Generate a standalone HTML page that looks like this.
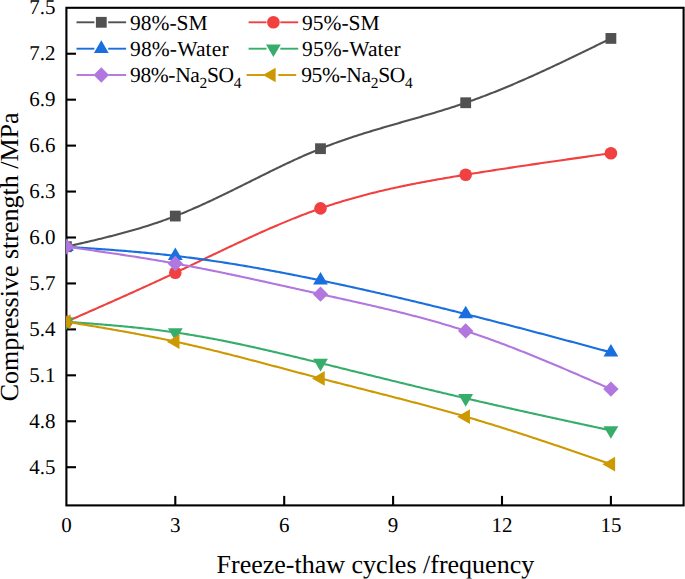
<!DOCTYPE html>
<html><head><meta charset="utf-8"><style>
html,body{margin:0;padding:0;background:#fff;}
svg{display:block;}
text{font-family:"Liberation Serif",serif;fill:#000;text-rendering:geometricPrecision;}
</style></head><body>
<svg width="685" height="579" viewBox="0 0 685 579">
<rect width="685" height="579" fill="#fff"/>
<defs><clipPath id="pa"><rect x="66.1" y="7.8" width="617.5" height="497.59999999999997"/></clipPath></defs>
<g stroke="#000" stroke-width="2.1" fill="none">
<rect x="66.4" y="7.8" width="617.2" height="497.59999999999997"/>
</g>
<g font-size="21px">
<text x="66.40" y="531.8" text-anchor="middle">0</text>
<line x1="175.30" y1="505.4" x2="175.30" y2="495.9" stroke="#000" stroke-width="2.1"/>
<text x="175.30" y="531.8" text-anchor="middle">3</text>
<line x1="284.20" y1="505.4" x2="284.20" y2="495.9" stroke="#000" stroke-width="2.1"/>
<text x="284.20" y="531.8" text-anchor="middle">6</text>
<line x1="393.10" y1="505.4" x2="393.10" y2="495.9" stroke="#000" stroke-width="2.1"/>
<text x="393.10" y="531.8" text-anchor="middle">9</text>
<line x1="502.00" y1="505.4" x2="502.00" y2="495.9" stroke="#000" stroke-width="2.1"/>
<text x="502.00" y="531.8" text-anchor="middle">12</text>
<line x1="610.90" y1="505.4" x2="610.90" y2="495.9" stroke="#000" stroke-width="2.1"/>
<text x="610.90" y="531.8" text-anchor="middle">15</text>
<text x="55.5" y="14.20" text-anchor="end">7.5</text>
<line x1="66.4" y1="53.74" x2="76.0" y2="53.74" stroke="#000" stroke-width="2.1"/>
<text x="55.5" y="60.14" text-anchor="end">7.2</text>
<line x1="66.4" y1="99.68" x2="76.0" y2="99.68" stroke="#000" stroke-width="2.1"/>
<text x="55.5" y="106.08" text-anchor="end">6.9</text>
<line x1="66.4" y1="145.62" x2="76.0" y2="145.62" stroke="#000" stroke-width="2.1"/>
<text x="55.5" y="152.02" text-anchor="end">6.6</text>
<line x1="66.4" y1="191.56" x2="76.0" y2="191.56" stroke="#000" stroke-width="2.1"/>
<text x="55.5" y="197.96" text-anchor="end">6.3</text>
<line x1="66.4" y1="237.50" x2="76.0" y2="237.50" stroke="#000" stroke-width="2.1"/>
<text x="55.5" y="243.90" text-anchor="end">6.0</text>
<line x1="66.4" y1="283.44" x2="76.0" y2="283.44" stroke="#000" stroke-width="2.1"/>
<text x="55.5" y="289.84" text-anchor="end">5.7</text>
<line x1="66.4" y1="329.38" x2="76.0" y2="329.38" stroke="#000" stroke-width="2.1"/>
<text x="55.5" y="335.78" text-anchor="end">5.4</text>
<line x1="66.4" y1="375.32" x2="76.0" y2="375.32" stroke="#000" stroke-width="2.1"/>
<text x="55.5" y="381.72" text-anchor="end">5.1</text>
<line x1="66.4" y1="421.26" x2="76.0" y2="421.26" stroke="#000" stroke-width="2.1"/>
<text x="55.5" y="427.66" text-anchor="end">4.8</text>
<line x1="66.4" y1="467.20" x2="76.0" y2="467.20" stroke="#000" stroke-width="2.1"/>
<text x="55.5" y="473.60" text-anchor="end">4.5</text>
</g>
<g clip-path="url(#pa)">
<path d="M66.40,246.69 L68.22,246.27 L70.03,245.86 L71.84,245.45 L73.66,245.03 L75.48,244.62 L77.29,244.20 L79.11,243.79 L80.92,243.37 L82.74,242.95 L84.55,242.53 L86.37,242.11 L88.18,241.68 L90.00,241.26 L91.81,240.83 L93.62,240.40 L95.44,239.96 L97.26,239.53 L99.07,239.09 L100.89,238.65 L102.70,238.21 L104.52,237.76 L106.33,237.31 L108.15,236.85 L109.96,236.39 L111.78,235.93 L113.59,235.47 L115.41,235.00 L117.22,234.52 L119.04,234.04 L120.85,233.56 L122.67,233.07 L124.48,232.58 L126.30,232.08 L128.11,231.57 L129.93,231.06 L131.74,230.55 L133.56,230.03 L135.37,229.50 L137.19,228.97 L139.00,228.43 L140.81,227.88 L142.63,227.33 L144.44,226.77 L146.26,226.20 L148.07,225.63 L149.89,225.05 L151.70,224.46 L153.52,223.86 L155.34,223.26 L157.15,222.65 L158.97,222.03 L160.78,221.40 L162.60,220.77 L164.41,220.12 L166.22,219.47 L168.04,218.80 L169.86,218.13 L171.67,217.45 L173.49,216.76 L175.30,216.06 L177.12,215.35 L178.93,214.63 L180.75,213.90 L182.56,213.17 L184.38,212.42 L186.19,211.67 L188.00,210.90 L189.82,210.13 L191.63,209.36 L193.45,208.57 L195.27,207.78 L197.08,206.97 L198.90,206.17 L200.71,205.35 L202.53,204.53 L204.34,203.71 L206.16,202.87 L207.97,202.03 L209.78,201.19 L211.60,200.34 L213.41,199.49 L215.23,198.63 L217.05,197.76 L218.86,196.90 L220.67,196.02 L222.49,195.15 L224.31,194.27 L226.12,193.39 L227.94,192.50 L229.75,191.61 L231.56,190.72 L233.38,189.83 L235.19,188.93 L237.01,188.03 L238.82,187.13 L240.64,186.23 L242.46,185.33 L244.27,184.43 L246.09,183.52 L247.90,182.62 L249.72,181.71 L251.53,180.81 L253.34,179.90 L255.16,179.00 L256.98,178.09 L258.79,177.19 L260.61,176.29 L262.42,175.39 L264.24,174.49 L266.05,173.59 L267.87,172.70 L269.68,171.80 L271.50,170.91 L273.31,170.03 L275.12,169.14 L276.94,168.26 L278.75,167.38 L280.57,166.51 L282.38,165.64 L284.20,164.77 L286.01,163.91 L287.83,163.05 L289.64,162.20 L291.46,161.35 L293.27,160.51 L295.09,159.67 L296.90,158.84 L298.72,158.02 L300.53,157.20 L302.35,156.39 L304.17,155.58 L305.98,154.79 L307.79,154.00 L309.61,153.21 L311.42,152.44 L313.24,151.67 L315.06,150.91 L316.87,150.16 L318.69,149.42 L320.50,148.68 L322.31,147.96 L324.13,147.24 L325.95,146.54 L327.76,145.84 L329.57,145.15 L331.39,144.46 L333.21,143.79 L335.02,143.12 L336.84,142.47 L338.65,141.81 L340.47,141.17 L342.28,140.53 L344.10,139.90 L345.91,139.28 L347.73,138.66 L349.54,138.05 L351.36,137.44 L353.17,136.84 L354.99,136.25 L356.80,135.66 L358.62,135.08 L360.43,134.50 L362.25,133.92 L364.06,133.35 L365.88,132.79 L367.69,132.23 L369.50,131.67 L371.32,131.12 L373.13,130.57 L374.95,130.02 L376.76,129.48 L378.58,128.94 L380.39,128.40 L382.21,127.87 L384.02,127.34 L385.84,126.81 L387.65,126.28 L389.47,125.75 L391.28,125.23 L393.10,124.71 L394.91,124.18 L396.73,123.66 L398.54,123.15 L400.36,122.63 L402.17,122.11 L403.99,121.59 L405.80,121.07 L407.62,120.55 L409.44,120.04 L411.25,119.52 L413.07,119.00 L414.88,118.48 L416.69,117.95 L418.51,117.43 L420.32,116.91 L422.14,116.38 L423.96,115.85 L425.77,115.32 L427.59,114.79 L429.40,114.26 L431.22,113.72 L433.03,113.18 L434.85,112.64 L436.66,112.09 L438.48,111.54 L440.29,110.99 L442.11,110.43 L443.92,109.87 L445.74,109.30 L447.55,108.73 L449.37,108.16 L451.18,107.58 L453.00,106.99 L454.81,106.40 L456.62,105.81 L458.44,105.21 L460.25,104.60 L462.07,103.99 L463.88,103.37 L465.70,102.74 L467.51,102.11 L469.33,101.47 L471.14,100.83 L472.96,100.18 L474.77,99.52 L476.59,98.86 L478.40,98.19 L480.22,97.51 L482.03,96.83 L483.85,96.14 L485.66,95.45 L487.48,94.75 L489.29,94.05 L491.11,93.34 L492.92,92.62 L494.74,91.90 L496.56,91.18 L498.37,90.44 L500.19,89.71 L502.00,88.97 L503.81,88.22 L505.63,87.47 L507.44,86.71 L509.26,85.95 L511.07,85.19 L512.89,84.42 L514.71,83.65 L516.52,82.87 L518.34,82.08 L520.15,81.30 L521.97,80.51 L523.78,79.71 L525.60,78.91 L527.41,78.11 L529.23,77.30 L531.04,76.49 L532.86,75.68 L534.67,74.86 L536.49,74.04 L538.30,73.22 L540.12,72.39 L541.93,71.56 L543.75,70.73 L545.56,69.89 L547.38,69.05 L549.19,68.21 L551.00,67.36 L552.82,66.51 L554.63,65.66 L556.45,64.81 L558.26,63.95 L560.08,63.09 L561.89,62.23 L563.71,61.37 L565.52,60.50 L567.34,59.64 L569.15,58.77 L570.97,57.90 L572.78,57.03 L574.60,56.15 L576.41,55.27 L578.23,54.40 L580.04,53.52 L581.86,52.64 L583.67,51.76 L585.49,50.87 L587.30,49.99 L589.12,49.10 L590.93,48.22 L592.75,47.33 L594.56,46.44 L596.38,45.55 L598.19,44.66 L600.01,43.77 L601.82,42.88 L603.64,41.99 L605.46,41.10 L607.27,40.21 L609.08,39.32 L610.90,38.43" fill="none" stroke="#515151" stroke-width="2.1" stroke-linejoin="round"/>
<rect x="61.00" y="241.29" width="10.8" height="10.8" fill="#515151"/>
<rect x="169.90" y="210.66" width="10.8" height="10.8" fill="#515151"/>
<rect x="315.10" y="143.28" width="10.8" height="10.8" fill="#515151"/>
<rect x="460.30" y="97.34" width="10.8" height="10.8" fill="#515151"/>
<rect x="605.50" y="33.03" width="10.8" height="10.8" fill="#515151"/>
<path d="M66.40,321.72 L68.22,320.92 L70.03,320.13 L71.84,319.33 L73.66,318.53 L75.48,317.73 L77.29,316.93 L79.11,316.13 L80.92,315.33 L82.74,314.53 L84.55,313.73 L86.37,312.93 L88.18,312.13 L90.00,311.33 L91.81,310.53 L93.62,309.73 L95.44,308.93 L97.26,308.13 L99.07,307.32 L100.89,306.52 L102.70,305.72 L104.52,304.91 L106.33,304.11 L108.15,303.30 L109.96,302.49 L111.78,301.68 L113.59,300.88 L115.41,300.07 L117.22,299.26 L119.04,298.45 L120.85,297.63 L122.67,296.82 L124.48,296.01 L126.30,295.19 L128.11,294.38 L129.93,293.56 L131.74,292.74 L133.56,291.93 L135.37,291.11 L137.19,290.28 L139.00,289.46 L140.81,288.64 L142.63,287.81 L144.44,286.99 L146.26,286.16 L148.07,285.33 L149.89,284.50 L151.70,283.67 L153.52,282.84 L155.34,282.00 L157.15,281.17 L158.97,280.33 L160.78,279.49 L162.60,278.65 L164.41,277.81 L166.22,276.97 L168.04,276.12 L169.86,275.27 L171.67,274.42 L173.49,273.57 L175.30,272.72 L177.12,271.87 L178.93,271.01 L180.75,270.15 L182.56,269.29 L184.38,268.43 L186.19,267.57 L188.00,266.71 L189.82,265.84 L191.63,264.98 L193.45,264.11 L195.27,263.25 L197.08,262.38 L198.90,261.51 L200.71,260.65 L202.53,259.78 L204.34,258.91 L206.16,258.04 L207.97,257.17 L209.78,256.31 L211.60,255.44 L213.41,254.57 L215.23,253.71 L217.05,252.84 L218.86,251.98 L220.67,251.11 L222.49,250.25 L224.31,249.39 L226.12,248.53 L227.94,247.67 L229.75,246.81 L231.56,245.95 L233.38,245.10 L235.19,244.25 L237.01,243.40 L238.82,242.55 L240.64,241.70 L242.46,240.86 L244.27,240.02 L246.09,239.18 L247.90,238.34 L249.72,237.51 L251.53,236.68 L253.34,235.85 L255.16,235.03 L256.98,234.21 L258.79,233.39 L260.61,232.58 L262.42,231.77 L264.24,230.96 L266.05,230.16 L267.87,229.36 L269.68,228.56 L271.50,227.77 L273.31,226.98 L275.12,226.20 L276.94,225.42 L278.75,224.65 L280.57,223.88 L282.38,223.12 L284.20,222.36 L286.01,221.61 L287.83,220.86 L289.64,220.11 L291.46,219.38 L293.27,218.64 L295.09,217.92 L296.90,217.20 L298.72,216.48 L300.53,215.77 L302.35,215.07 L304.17,214.37 L305.98,213.68 L307.79,213.00 L309.61,212.32 L311.42,211.65 L313.24,210.99 L315.06,210.33 L316.87,209.68 L318.69,209.04 L320.50,208.40 L322.31,207.78 L324.13,207.16 L325.95,206.54 L327.76,205.94 L329.57,205.34 L331.39,204.74 L333.21,204.16 L335.02,203.58 L336.84,203.01 L338.65,202.44 L340.47,201.89 L342.28,201.33 L344.10,200.79 L345.91,200.25 L347.73,199.72 L349.54,199.19 L351.36,198.67 L353.17,198.15 L354.99,197.65 L356.80,197.14 L358.62,196.65 L360.43,196.15 L362.25,195.67 L364.06,195.19 L365.88,194.71 L367.69,194.24 L369.50,193.78 L371.32,193.32 L373.13,192.87 L374.95,192.42 L376.76,191.98 L378.58,191.54 L380.39,191.10 L382.21,190.68 L384.02,190.25 L385.84,189.83 L387.65,189.42 L389.47,189.01 L391.28,188.60 L393.10,188.20 L394.91,187.80 L396.73,187.41 L398.54,187.02 L400.36,186.63 L402.17,186.25 L403.99,185.87 L405.80,185.50 L407.62,185.13 L409.44,184.76 L411.25,184.39 L413.07,184.03 L414.88,183.68 L416.69,183.32 L418.51,182.97 L420.32,182.63 L422.14,182.28 L423.96,181.94 L425.77,181.60 L427.59,181.27 L429.40,180.93 L431.22,180.60 L433.03,180.28 L434.85,179.95 L436.66,179.63 L438.48,179.31 L440.29,178.99 L442.11,178.67 L443.92,178.36 L445.74,178.04 L447.55,177.73 L449.37,177.42 L451.18,177.12 L453.00,176.81 L454.81,176.51 L456.62,176.21 L458.44,175.91 L460.25,175.61 L462.07,175.31 L463.88,175.01 L465.70,174.72 L467.51,174.42 L469.33,174.13 L471.14,173.83 L472.96,173.54 L474.77,173.25 L476.59,172.96 L478.40,172.67 L480.22,172.38 L482.03,172.10 L483.85,171.81 L485.66,171.53 L487.48,171.24 L489.29,170.96 L491.11,170.68 L492.92,170.39 L494.74,170.11 L496.56,169.83 L498.37,169.55 L500.19,169.27 L502.00,169.00 L503.81,168.72 L505.63,168.44 L507.44,168.17 L509.26,167.89 L511.07,167.62 L512.89,167.35 L514.71,167.07 L516.52,166.80 L518.34,166.53 L520.15,166.26 L521.97,165.99 L523.78,165.72 L525.60,165.45 L527.41,165.18 L529.23,164.92 L531.04,164.65 L532.86,164.38 L534.67,164.12 L536.49,163.85 L538.30,163.59 L540.12,163.32 L541.93,163.06 L543.75,162.79 L545.56,162.53 L547.38,162.27 L549.19,162.01 L551.00,161.75 L552.82,161.48 L554.63,161.22 L556.45,160.96 L558.26,160.70 L560.08,160.44 L561.89,160.18 L563.71,159.93 L565.52,159.67 L567.34,159.41 L569.15,159.15 L570.97,158.89 L572.78,158.64 L574.60,158.38 L576.41,158.12 L578.23,157.87 L580.04,157.61 L581.86,157.35 L583.67,157.10 L585.49,156.84 L587.30,156.59 L589.12,156.33 L590.93,156.08 L592.75,155.82 L594.56,155.57 L596.38,155.31 L598.19,155.06 L600.01,154.80 L601.82,154.55 L603.64,154.29 L605.46,154.04 L607.27,153.79 L609.08,153.53 L610.90,153.28" fill="none" stroke="#F14040" stroke-width="2.1" stroke-linejoin="round"/>
<circle cx="66.40" cy="321.72" r="6.3" fill="#F14040"/>
<circle cx="175.30" cy="272.72" r="6.3" fill="#F14040"/>
<circle cx="320.50" cy="208.40" r="6.3" fill="#F14040"/>
<circle cx="465.70" cy="174.72" r="6.3" fill="#F14040"/>
<circle cx="610.90" cy="153.28" r="6.3" fill="#F14040"/>
<path d="M66.40,246.69 L68.22,246.81 L70.03,246.94 L71.84,247.06 L73.66,247.18 L75.48,247.31 L77.29,247.43 L79.11,247.56 L80.92,247.68 L82.74,247.81 L84.55,247.93 L86.37,248.06 L88.18,248.19 L90.00,248.32 L91.81,248.44 L93.62,248.57 L95.44,248.70 L97.26,248.83 L99.07,248.96 L100.89,249.10 L102.70,249.23 L104.52,249.36 L106.33,249.50 L108.15,249.64 L109.96,249.77 L111.78,249.91 L113.59,250.05 L115.41,250.19 L117.22,250.33 L119.04,250.48 L120.85,250.62 L122.67,250.77 L124.48,250.92 L126.30,251.07 L128.11,251.22 L129.93,251.37 L131.74,251.53 L133.56,251.68 L135.37,251.84 L137.19,252.00 L139.00,252.16 L140.81,252.33 L142.63,252.49 L144.44,252.66 L146.26,252.83 L148.07,253.00 L149.89,253.18 L151.70,253.35 L153.52,253.53 L155.34,253.71 L157.15,253.90 L158.97,254.08 L160.78,254.27 L162.60,254.46 L164.41,254.66 L166.22,254.85 L168.04,255.05 L169.86,255.25 L171.67,255.46 L173.49,255.67 L175.30,255.88 L177.12,256.09 L178.93,256.31 L180.75,256.52 L182.56,256.75 L184.38,256.97 L186.19,257.20 L188.00,257.43 L189.82,257.66 L191.63,257.90 L193.45,258.14 L195.27,258.38 L197.08,258.62 L198.90,258.87 L200.71,259.12 L202.53,259.37 L204.34,259.62 L206.16,259.88 L207.97,260.14 L209.78,260.40 L211.60,260.67 L213.41,260.94 L215.23,261.21 L217.05,261.48 L218.86,261.75 L220.67,262.03 L222.49,262.31 L224.31,262.59 L226.12,262.88 L227.94,263.16 L229.75,263.45 L231.56,263.74 L233.38,264.04 L235.19,264.33 L237.01,264.63 L238.82,264.93 L240.64,265.23 L242.46,265.54 L244.27,265.84 L246.09,266.15 L247.90,266.46 L249.72,266.78 L251.53,267.09 L253.34,267.41 L255.16,267.73 L256.98,268.05 L258.79,268.37 L260.61,268.70 L262.42,269.02 L264.24,269.35 L266.05,269.68 L267.87,270.02 L269.68,270.35 L271.50,270.69 L273.31,271.02 L275.12,271.36 L276.94,271.71 L278.75,272.05 L280.57,272.39 L282.38,272.74 L284.20,273.09 L286.01,273.44 L287.83,273.79 L289.64,274.14 L291.46,274.50 L293.27,274.86 L295.09,275.21 L296.90,275.57 L298.72,275.93 L300.53,276.30 L302.35,276.66 L304.17,277.03 L305.98,277.39 L307.79,277.76 L309.61,278.13 L311.42,278.50 L313.24,278.87 L315.06,279.25 L316.87,279.62 L318.69,280.00 L320.50,280.38 L322.31,280.76 L324.13,281.14 L325.95,281.52 L327.76,281.90 L329.57,282.28 L331.39,282.67 L333.21,283.05 L335.02,283.44 L336.84,283.83 L338.65,284.22 L340.47,284.61 L342.28,285.00 L344.10,285.39 L345.91,285.79 L347.73,286.18 L349.54,286.58 L351.36,286.98 L353.17,287.38 L354.99,287.78 L356.80,288.18 L358.62,288.58 L360.43,288.98 L362.25,289.39 L364.06,289.79 L365.88,290.20 L367.69,290.61 L369.50,291.01 L371.32,291.42 L373.13,291.84 L374.95,292.25 L376.76,292.66 L378.58,293.07 L380.39,293.49 L382.21,293.91 L384.02,294.32 L385.84,294.74 L387.65,295.16 L389.47,295.58 L391.28,296.00 L393.10,296.42 L394.91,296.85 L396.73,297.27 L398.54,297.70 L400.36,298.12 L402.17,298.55 L403.99,298.98 L405.80,299.41 L407.62,299.84 L409.44,300.27 L411.25,300.70 L413.07,301.13 L414.88,301.56 L416.69,302.00 L418.51,302.44 L420.32,302.87 L422.14,303.31 L423.96,303.75 L425.77,304.19 L427.59,304.63 L429.40,305.07 L431.22,305.51 L433.03,305.95 L434.85,306.40 L436.66,306.84 L438.48,307.29 L440.29,307.73 L442.11,308.18 L443.92,308.63 L445.74,309.08 L447.55,309.53 L449.37,309.98 L451.18,310.43 L453.00,310.88 L454.81,311.33 L456.62,311.79 L458.44,312.24 L460.25,312.70 L462.07,313.15 L463.88,313.61 L465.70,314.07 L467.51,314.53 L469.33,314.98 L471.14,315.44 L472.96,315.90 L474.77,316.37 L476.59,316.83 L478.40,317.29 L480.22,317.75 L482.03,318.22 L483.85,318.68 L485.66,319.15 L487.48,319.62 L489.29,320.08 L491.11,320.55 L492.92,321.02 L494.74,321.49 L496.56,321.96 L498.37,322.43 L500.19,322.90 L502.00,323.37 L503.81,323.84 L505.63,324.31 L507.44,324.79 L509.26,325.26 L511.07,325.73 L512.89,326.21 L514.71,326.68 L516.52,327.16 L518.34,327.63 L520.15,328.11 L521.97,328.59 L523.78,329.06 L525.60,329.54 L527.41,330.02 L529.23,330.50 L531.04,330.98 L532.86,331.46 L534.67,331.94 L536.49,332.42 L538.30,332.90 L540.12,333.38 L541.93,333.86 L543.75,334.35 L545.56,334.83 L547.38,335.31 L549.19,335.79 L551.00,336.28 L552.82,336.76 L554.63,337.24 L556.45,337.73 L558.26,338.21 L560.08,338.70 L561.89,339.18 L563.71,339.67 L565.52,340.15 L567.34,340.64 L569.15,341.13 L570.97,341.61 L572.78,342.10 L574.60,342.59 L576.41,343.07 L578.23,343.56 L580.04,344.05 L581.86,344.54 L583.67,345.02 L585.49,345.51 L587.30,346.00 L589.12,346.49 L590.93,346.98 L592.75,347.46 L594.56,347.95 L596.38,348.44 L598.19,348.93 L600.01,349.42 L601.82,349.91 L603.64,350.39 L605.46,350.88 L607.27,351.37 L609.08,351.86 L610.90,352.35" fill="none" stroke="#1A6FDF" stroke-width="2.1" stroke-linejoin="round"/>
<polygon points="59.00,250.89 73.80,250.89 66.40,238.29" fill="#1A6FDF"/>
<polygon points="167.90,260.08 182.70,260.08 175.30,247.48" fill="#1A6FDF"/>
<polygon points="313.10,284.58 327.90,284.58 320.50,271.98" fill="#1A6FDF"/>
<polygon points="458.30,318.27 473.10,318.27 465.70,305.67" fill="#1A6FDF"/>
<polygon points="603.50,356.55 618.30,356.55 610.90,343.95" fill="#1A6FDF"/>
<path d="M66.40,321.72 L68.22,321.86 L70.03,321.99 L71.84,322.13 L73.66,322.27 L75.48,322.40 L77.29,322.54 L79.11,322.68 L80.92,322.81 L82.74,322.95 L84.55,323.09 L86.37,323.23 L88.18,323.37 L90.00,323.51 L91.81,323.65 L93.62,323.80 L95.44,323.94 L97.26,324.08 L99.07,324.23 L100.89,324.38 L102.70,324.53 L104.52,324.68 L106.33,324.83 L108.15,324.98 L109.96,325.14 L111.78,325.30 L113.59,325.46 L115.41,325.62 L117.22,325.78 L119.04,325.94 L120.85,326.11 L122.67,326.28 L124.48,326.45 L126.30,326.62 L128.11,326.80 L129.93,326.98 L131.74,327.16 L133.56,327.34 L135.37,327.53 L137.19,327.72 L139.00,327.91 L140.81,328.10 L142.63,328.30 L144.44,328.50 L146.26,328.71 L148.07,328.91 L149.89,329.12 L151.70,329.34 L153.52,329.55 L155.34,329.77 L157.15,330.00 L158.97,330.22 L160.78,330.45 L162.60,330.69 L164.41,330.93 L166.22,331.17 L168.04,331.42 L169.86,331.67 L171.67,331.92 L173.49,332.18 L175.30,332.44 L177.12,332.71 L178.93,332.98 L180.75,333.26 L182.56,333.54 L184.38,333.82 L186.19,334.11 L188.00,334.40 L189.82,334.70 L191.63,335.00 L193.45,335.30 L195.27,335.61 L197.08,335.92 L198.90,336.24 L200.71,336.55 L202.53,336.88 L204.34,337.20 L206.16,337.53 L207.97,337.86 L209.78,338.20 L211.60,338.54 L213.41,338.88 L215.23,339.23 L217.05,339.58 L218.86,339.93 L220.67,340.29 L222.49,340.64 L224.31,341.01 L226.12,341.37 L227.94,341.74 L229.75,342.11 L231.56,342.48 L233.38,342.86 L235.19,343.23 L237.01,343.62 L238.82,344.00 L240.64,344.38 L242.46,344.77 L244.27,345.16 L246.09,345.56 L247.90,345.95 L249.72,346.35 L251.53,346.75 L253.34,347.15 L255.16,347.56 L256.98,347.96 L258.79,348.37 L260.61,348.78 L262.42,349.19 L264.24,349.61 L266.05,350.02 L267.87,350.44 L269.68,350.86 L271.50,351.28 L273.31,351.70 L275.12,352.13 L276.94,352.55 L278.75,352.98 L280.57,353.41 L282.38,353.84 L284.20,354.27 L286.01,354.70 L287.83,355.13 L289.64,355.57 L291.46,356.00 L293.27,356.44 L295.09,356.87 L296.90,357.31 L298.72,357.75 L300.53,358.19 L302.35,358.63 L304.17,359.07 L305.98,359.52 L307.79,359.96 L309.61,360.40 L311.42,360.85 L313.24,361.29 L315.06,361.73 L316.87,362.18 L318.69,362.62 L320.50,363.07 L322.31,363.51 L324.13,363.96 L325.95,364.41 L327.76,364.85 L329.57,365.30 L331.39,365.75 L333.21,366.19 L335.02,366.64 L336.84,367.08 L338.65,367.53 L340.47,367.98 L342.28,368.42 L344.10,368.87 L345.91,369.32 L347.73,369.77 L349.54,370.21 L351.36,370.66 L353.17,371.11 L354.99,371.55 L356.80,372.00 L358.62,372.45 L360.43,372.89 L362.25,373.34 L364.06,373.79 L365.88,374.23 L367.69,374.68 L369.50,375.13 L371.32,375.57 L373.13,376.02 L374.95,376.46 L376.76,376.91 L378.58,377.35 L380.39,377.80 L382.21,378.25 L384.02,378.69 L385.84,379.13 L387.65,379.58 L389.47,380.02 L391.28,380.47 L393.10,380.91 L394.91,381.35 L396.73,381.80 L398.54,382.24 L400.36,382.68 L402.17,383.12 L403.99,383.57 L405.80,384.01 L407.62,384.45 L409.44,384.89 L411.25,385.33 L413.07,385.77 L414.88,386.21 L416.69,386.65 L418.51,387.08 L420.32,387.52 L422.14,387.96 L423.96,388.40 L425.77,388.83 L427.59,389.27 L429.40,389.71 L431.22,390.14 L433.03,390.58 L434.85,391.01 L436.66,391.44 L438.48,391.88 L440.29,392.31 L442.11,392.74 L443.92,393.17 L445.74,393.60 L447.55,394.03 L449.37,394.46 L451.18,394.89 L453.00,395.32 L454.81,395.74 L456.62,396.17 L458.44,396.59 L460.25,397.02 L462.07,397.44 L463.88,397.87 L465.70,398.29 L467.51,398.71 L469.33,399.13 L471.14,399.55 L472.96,399.97 L474.77,400.39 L476.59,400.81 L478.40,401.23 L480.22,401.65 L482.03,402.06 L483.85,402.48 L485.66,402.89 L487.48,403.31 L489.29,403.72 L491.11,404.13 L492.92,404.54 L494.74,404.96 L496.56,405.37 L498.37,405.78 L500.19,406.19 L502.00,406.60 L503.81,407.01 L505.63,407.41 L507.44,407.82 L509.26,408.23 L511.07,408.64 L512.89,409.04 L514.71,409.45 L516.52,409.85 L518.34,410.26 L520.15,410.66 L521.97,411.06 L523.78,411.47 L525.60,411.87 L527.41,412.27 L529.23,412.67 L531.04,413.07 L532.86,413.47 L534.67,413.88 L536.49,414.28 L538.30,414.67 L540.12,415.07 L541.93,415.47 L543.75,415.87 L545.56,416.27 L547.38,416.67 L549.19,417.06 L551.00,417.46 L552.82,417.86 L554.63,418.26 L556.45,418.65 L558.26,419.05 L560.08,419.44 L561.89,419.84 L563.71,420.23 L565.52,420.63 L567.34,421.02 L569.15,421.42 L570.97,421.81 L572.78,422.21 L574.60,422.60 L576.41,422.99 L578.23,423.39 L580.04,423.78 L581.86,424.17 L583.67,424.57 L585.49,424.96 L587.30,425.35 L589.12,425.74 L590.93,426.14 L592.75,426.53 L594.56,426.92 L596.38,427.31 L598.19,427.70 L600.01,428.10 L601.82,428.49 L603.64,428.88 L605.46,429.27 L607.27,429.66 L609.08,430.06 L610.90,430.45" fill="none" stroke="#37AD6B" stroke-width="2.1" stroke-linejoin="round"/>
<polygon points="59.00,317.52 73.80,317.52 66.40,330.12" fill="#37AD6B"/>
<polygon points="167.90,328.24 182.70,328.24 175.30,340.84" fill="#37AD6B"/>
<polygon points="313.10,358.87 327.90,358.87 320.50,371.47" fill="#37AD6B"/>
<polygon points="458.30,394.09 473.10,394.09 465.70,406.69" fill="#37AD6B"/>
<polygon points="603.50,426.25 618.30,426.25 610.90,438.85" fill="#37AD6B"/>
<path d="M66.40,246.69 L68.22,246.95 L70.03,247.20 L71.84,247.46 L73.66,247.72 L75.48,247.98 L77.29,248.24 L79.11,248.49 L80.92,248.75 L82.74,249.01 L84.55,249.27 L86.37,249.53 L88.18,249.79 L90.00,250.05 L91.81,250.31 L93.62,250.57 L95.44,250.84 L97.26,251.10 L99.07,251.36 L100.89,251.63 L102.70,251.89 L104.52,252.16 L106.33,252.42 L108.15,252.69 L109.96,252.96 L111.78,253.23 L113.59,253.50 L115.41,253.77 L117.22,254.04 L119.04,254.32 L120.85,254.59 L122.67,254.87 L124.48,255.14 L126.30,255.42 L128.11,255.70 L129.93,255.98 L131.74,256.26 L133.56,256.55 L135.37,256.83 L137.19,257.12 L139.00,257.40 L140.81,257.69 L142.63,257.98 L144.44,258.28 L146.26,258.57 L148.07,258.87 L149.89,259.16 L151.70,259.46 L153.52,259.76 L155.34,260.07 L157.15,260.37 L158.97,260.68 L160.78,260.99 L162.60,261.30 L164.41,261.61 L166.22,261.93 L168.04,262.24 L169.86,262.56 L171.67,262.88 L173.49,263.21 L175.30,263.53 L177.12,263.86 L178.93,264.19 L180.75,264.52 L182.56,264.86 L184.38,265.20 L186.19,265.53 L188.00,265.88 L189.82,266.22 L191.63,266.56 L193.45,266.91 L195.27,267.26 L197.08,267.61 L198.90,267.97 L200.71,268.32 L202.53,268.68 L204.34,269.04 L206.16,269.40 L207.97,269.76 L209.78,270.12 L211.60,270.49 L213.41,270.85 L215.23,271.22 L217.05,271.59 L218.86,271.97 L220.67,272.34 L222.49,272.71 L224.31,273.09 L226.12,273.47 L227.94,273.85 L229.75,274.23 L231.56,274.61 L233.38,274.99 L235.19,275.37 L237.01,275.76 L238.82,276.14 L240.64,276.53 L242.46,276.92 L244.27,277.31 L246.09,277.70 L247.90,278.09 L249.72,278.48 L251.53,278.88 L253.34,279.27 L255.16,279.67 L256.98,280.06 L258.79,280.46 L260.61,280.86 L262.42,281.25 L264.24,281.65 L266.05,282.05 L267.87,282.45 L269.68,282.85 L271.50,283.25 L273.31,283.66 L275.12,284.06 L276.94,284.46 L278.75,284.86 L280.57,285.27 L282.38,285.67 L284.20,286.07 L286.01,286.48 L287.83,286.88 L289.64,287.29 L291.46,287.69 L293.27,288.10 L295.09,288.50 L296.90,288.91 L298.72,289.31 L300.53,289.72 L302.35,290.12 L304.17,290.53 L305.98,290.93 L307.79,291.33 L309.61,291.74 L311.42,292.14 L313.24,292.55 L315.06,292.95 L316.87,293.35 L318.69,293.76 L320.50,294.16 L322.31,294.56 L324.13,294.96 L325.95,295.36 L327.76,295.77 L329.57,296.17 L331.39,296.57 L333.21,296.97 L335.02,297.37 L336.84,297.77 L338.65,298.17 L340.47,298.57 L342.28,298.98 L344.10,299.38 L345.91,299.78 L347.73,300.19 L349.54,300.59 L351.36,300.99 L353.17,301.40 L354.99,301.81 L356.80,302.21 L358.62,302.62 L360.43,303.03 L362.25,303.44 L364.06,303.85 L365.88,304.27 L367.69,304.68 L369.50,305.09 L371.32,305.51 L373.13,305.93 L374.95,306.35 L376.76,306.77 L378.58,307.20 L380.39,307.62 L382.21,308.05 L384.02,308.48 L385.84,308.91 L387.65,309.34 L389.47,309.78 L391.28,310.21 L393.10,310.65 L394.91,311.09 L396.73,311.54 L398.54,311.99 L400.36,312.44 L402.17,312.89 L403.99,313.34 L405.80,313.80 L407.62,314.26 L409.44,314.72 L411.25,315.19 L413.07,315.66 L414.88,316.13 L416.69,316.61 L418.51,317.09 L420.32,317.57 L422.14,318.06 L423.96,318.54 L425.77,319.04 L427.59,319.53 L429.40,320.03 L431.22,320.54 L433.03,321.04 L434.85,321.56 L436.66,322.07 L438.48,322.59 L440.29,323.11 L442.11,323.64 L443.92,324.17 L445.74,324.71 L447.55,325.25 L449.37,325.80 L451.18,326.35 L453.00,326.90 L454.81,327.46 L456.62,328.02 L458.44,328.59 L460.25,329.16 L462.07,329.74 L463.88,330.32 L465.70,330.91 L467.51,331.50 L469.33,332.10 L471.14,332.71 L472.96,333.31 L474.77,333.93 L476.59,334.54 L478.40,335.17 L480.22,335.79 L482.03,336.43 L483.85,337.06 L485.66,337.70 L487.48,338.35 L489.29,339.00 L491.11,339.65 L492.92,340.31 L494.74,340.97 L496.56,341.64 L498.37,342.31 L500.19,342.98 L502.00,343.66 L503.81,344.35 L505.63,345.03 L507.44,345.72 L509.26,346.41 L511.07,347.11 L512.89,347.81 L514.71,348.52 L516.52,349.22 L518.34,349.93 L520.15,350.65 L521.97,351.37 L523.78,352.09 L525.60,352.81 L527.41,353.54 L529.23,354.27 L531.04,355.00 L532.86,355.73 L534.67,356.47 L536.49,357.21 L538.30,357.95 L540.12,358.70 L541.93,359.45 L543.75,360.20 L545.56,360.95 L547.38,361.71 L549.19,362.47 L551.00,363.22 L552.82,363.99 L554.63,364.75 L556.45,365.52 L558.26,366.28 L560.08,367.05 L561.89,367.83 L563.71,368.60 L565.52,369.37 L567.34,370.15 L569.15,370.93 L570.97,371.71 L572.78,372.49 L574.60,373.27 L576.41,374.06 L578.23,374.84 L580.04,375.63 L581.86,376.41 L583.67,377.20 L585.49,377.99 L587.30,378.78 L589.12,379.57 L590.93,380.36 L592.75,381.15 L594.56,381.95 L596.38,382.74 L598.19,383.54 L600.01,384.33 L601.82,385.12 L603.64,385.92 L605.46,386.71 L607.27,387.51 L609.08,388.31 L610.90,389.10" fill="none" stroke="#B177DE" stroke-width="2.1" stroke-linejoin="round"/>
<polygon points="66.40,238.99 74.10,246.69 66.40,254.39 58.70,246.69" fill="#B177DE"/>
<polygon points="175.30,255.83 183.00,263.53 175.30,271.23 167.60,263.53" fill="#B177DE"/>
<polygon points="320.50,286.46 328.20,294.16 320.50,301.86 312.80,294.16" fill="#B177DE"/>
<polygon points="465.70,323.21 473.40,330.91 465.70,338.61 458.00,330.91" fill="#B177DE"/>
<polygon points="610.90,381.40 618.60,389.10 610.90,396.80 603.20,389.10" fill="#B177DE"/>
<path d="M66.40,321.72 L68.22,322.02 L70.03,322.33 L71.84,322.63 L73.66,322.93 L75.48,323.23 L77.29,323.53 L79.11,323.84 L80.92,324.14 L82.74,324.44 L84.55,324.75 L86.37,325.05 L88.18,325.36 L90.00,325.66 L91.81,325.97 L93.62,326.28 L95.44,326.58 L97.26,326.89 L99.07,327.20 L100.89,327.51 L102.70,327.82 L104.52,328.13 L106.33,328.45 L108.15,328.76 L109.96,329.08 L111.78,329.39 L113.59,329.71 L115.41,330.03 L117.22,330.35 L119.04,330.67 L120.85,331.00 L122.67,331.32 L124.48,331.65 L126.30,331.98 L128.11,332.31 L129.93,332.64 L131.74,332.97 L133.56,333.31 L135.37,333.64 L137.19,333.98 L139.00,334.32 L140.81,334.67 L142.63,335.01 L144.44,335.36 L146.26,335.71 L148.07,336.06 L149.89,336.41 L151.70,336.77 L153.52,337.13 L155.34,337.49 L157.15,337.85 L158.97,338.22 L160.78,338.59 L162.60,338.96 L164.41,339.33 L166.22,339.71 L168.04,340.09 L169.86,340.47 L171.67,340.85 L173.49,341.24 L175.30,341.63 L177.12,342.02 L178.93,342.42 L180.75,342.82 L182.56,343.22 L184.38,343.63 L186.19,344.04 L188.00,344.45 L189.82,344.86 L191.63,345.28 L193.45,345.70 L195.27,346.12 L197.08,346.54 L198.90,346.97 L200.71,347.39 L202.53,347.82 L204.34,348.26 L206.16,348.69 L207.97,349.13 L209.78,349.57 L211.60,350.01 L213.41,350.45 L215.23,350.90 L217.05,351.35 L218.86,351.80 L220.67,352.25 L222.49,352.70 L224.31,353.16 L226.12,353.61 L227.94,354.07 L229.75,354.53 L231.56,354.99 L233.38,355.45 L235.19,355.92 L237.01,356.38 L238.82,356.85 L240.64,357.32 L242.46,357.78 L244.27,358.25 L246.09,358.73 L247.90,359.20 L249.72,359.67 L251.53,360.15 L253.34,360.62 L255.16,361.10 L256.98,361.57 L258.79,362.05 L260.61,362.53 L262.42,363.01 L264.24,363.49 L266.05,363.97 L267.87,364.45 L269.68,364.93 L271.50,365.41 L273.31,365.89 L275.12,366.37 L276.94,366.86 L278.75,367.34 L280.57,367.82 L282.38,368.31 L284.20,368.79 L286.01,369.27 L287.83,369.75 L289.64,370.24 L291.46,370.72 L293.27,371.20 L295.09,371.68 L296.90,372.17 L298.72,372.65 L300.53,373.13 L302.35,373.61 L304.17,374.09 L305.98,374.57 L307.79,375.05 L309.61,375.53 L311.42,376.01 L313.24,376.48 L315.06,376.96 L316.87,377.43 L318.69,377.91 L320.50,378.38 L322.31,378.86 L324.13,379.33 L325.95,379.80 L327.76,380.27 L329.57,380.74 L331.39,381.20 L333.21,381.67 L335.02,382.14 L336.84,382.61 L338.65,383.07 L340.47,383.54 L342.28,384.00 L344.10,384.46 L345.91,384.93 L347.73,385.39 L349.54,385.85 L351.36,386.32 L353.17,386.78 L354.99,387.24 L356.80,387.70 L358.62,388.16 L360.43,388.62 L362.25,389.09 L364.06,389.55 L365.88,390.01 L367.69,390.47 L369.50,390.93 L371.32,391.39 L373.13,391.86 L374.95,392.32 L376.76,392.78 L378.58,393.24 L380.39,393.71 L382.21,394.17 L384.02,394.63 L385.84,395.10 L387.65,395.56 L389.47,396.03 L391.28,396.50 L393.10,396.96 L394.91,397.43 L396.73,397.90 L398.54,398.37 L400.36,398.84 L402.17,399.31 L403.99,399.78 L405.80,400.25 L407.62,400.73 L409.44,401.20 L411.25,401.68 L413.07,402.15 L414.88,402.63 L416.69,403.11 L418.51,403.59 L420.32,404.07 L422.14,404.56 L423.96,405.04 L425.77,405.53 L427.59,406.01 L429.40,406.50 L431.22,406.99 L433.03,407.49 L434.85,407.98 L436.66,408.48 L438.48,408.97 L440.29,409.47 L442.11,409.97 L443.92,410.47 L445.74,410.98 L447.55,411.49 L449.37,411.99 L451.18,412.50 L453.00,413.02 L454.81,413.53 L456.62,414.05 L458.44,414.57 L460.25,415.09 L462.07,415.61 L463.88,416.14 L465.70,416.67 L467.51,417.20 L469.33,417.73 L471.14,418.26 L472.96,418.80 L474.77,419.34 L476.59,419.88 L478.40,420.43 L480.22,420.97 L482.03,421.52 L483.85,422.07 L485.66,422.63 L487.48,423.18 L489.29,423.74 L491.11,424.30 L492.92,424.86 L494.74,425.42 L496.56,425.99 L498.37,426.55 L500.19,427.12 L502.00,427.69 L503.81,428.27 L505.63,428.84 L507.44,429.42 L509.26,429.99 L511.07,430.57 L512.89,431.15 L514.71,431.73 L516.52,432.32 L518.34,432.90 L520.15,433.49 L521.97,434.08 L523.78,434.67 L525.60,435.26 L527.41,435.85 L529.23,436.45 L531.04,437.04 L532.86,437.64 L534.67,438.24 L536.49,438.84 L538.30,439.44 L540.12,440.04 L541.93,440.65 L543.75,441.25 L545.56,441.86 L547.38,442.46 L549.19,443.07 L551.00,443.68 L552.82,444.29 L554.63,444.90 L556.45,445.51 L558.26,446.12 L560.08,446.74 L561.89,447.35 L563.71,447.96 L565.52,448.58 L567.34,449.20 L569.15,449.81 L570.97,450.43 L572.78,451.05 L574.60,451.67 L576.41,452.29 L578.23,452.91 L580.04,453.53 L581.86,454.15 L583.67,454.77 L585.49,455.40 L587.30,456.02 L589.12,456.64 L590.93,457.26 L592.75,457.89 L594.56,458.51 L596.38,459.14 L598.19,459.76 L600.01,460.39 L601.82,461.01 L603.64,461.64 L605.46,462.26 L607.27,462.89 L609.08,463.51 L610.90,464.14" fill="none" stroke="#CC9900" stroke-width="2.1" stroke-linejoin="round"/>
<polygon points="70.63,314.37 70.63,329.07 57.93,321.72" fill="#CC9900"/>
<polygon points="179.53,334.28 179.53,348.98 166.83,341.63" fill="#CC9900"/>
<polygon points="324.73,371.03 324.73,385.73 312.03,378.38" fill="#CC9900"/>
<polygon points="469.93,409.32 469.93,424.02 457.23,416.67" fill="#CC9900"/>
<polygon points="615.13,456.79 615.13,471.49 602.43,464.14" fill="#CC9900"/>
</g>
<g font-size="21.5px">
<line x1="76.50" y1="22.3" x2="94.40" y2="22.3" stroke="#515151" stroke-width="1.9"/>
<line x1="108.20" y1="22.3" x2="126.10" y2="22.3" stroke="#515151" stroke-width="1.9"/>
<rect x="95.90" y="16.90" width="10.8" height="10.8" fill="#515151"/>
<text x="130" y="29.70" letter-spacing="0">98%-SM</text>
<line x1="248.60" y1="22.3" x2="266.50" y2="22.3" stroke="#F14040" stroke-width="1.9"/>
<line x1="280.30" y1="22.3" x2="298.20" y2="22.3" stroke="#F14040" stroke-width="1.9"/>
<circle cx="273.40" cy="22.30" r="6.3" fill="#F14040"/>
<text x="302" y="29.70" letter-spacing="0">95%-SM</text>
<line x1="76.50" y1="48.7" x2="94.40" y2="48.7" stroke="#1A6FDF" stroke-width="1.9"/>
<line x1="108.20" y1="48.7" x2="126.10" y2="48.7" stroke="#1A6FDF" stroke-width="1.9"/>
<polygon points="93.90,52.90 108.70,52.90 101.30,40.30" fill="#1A6FDF"/>
<text x="130" y="56.10" letter-spacing="0.15">98%-Water</text>
<line x1="248.60" y1="48.7" x2="266.50" y2="48.7" stroke="#37AD6B" stroke-width="1.9"/>
<line x1="280.30" y1="48.7" x2="298.20" y2="48.7" stroke="#37AD6B" stroke-width="1.9"/>
<polygon points="266.00,44.50 280.80,44.50 273.40,57.10" fill="#37AD6B"/>
<text x="302" y="56.10" letter-spacing="0.15">95%-Water</text>
<line x1="76.50" y1="75.0" x2="94.40" y2="75.0" stroke="#B177DE" stroke-width="1.9"/>
<line x1="108.20" y1="75.0" x2="126.10" y2="75.0" stroke="#B177DE" stroke-width="1.9"/>
<polygon points="101.30,67.30 109.00,75.00 101.30,82.70 93.60,75.00" fill="#B177DE"/>
<text x="130" y="82.40" letter-spacing="-0.35">98%-Na<tspan dy="5.6" font-size="15.5px">2</tspan><tspan dy="-5.6">SO</tspan><tspan dy="5.6" font-size="15.5px">4</tspan></text>
<line x1="246.60" y1="75.0" x2="264.50" y2="75.0" stroke="#CC9900" stroke-width="1.9"/>
<line x1="278.30" y1="75.0" x2="296.20" y2="75.0" stroke="#CC9900" stroke-width="1.9"/>
<polygon points="275.63,67.65 275.63,82.35 262.93,75.00" fill="#CC9900"/>
<text x="301.2" y="82.40" letter-spacing="-0.35">95%-Na<tspan dy="5.6" font-size="15.5px">2</tspan><tspan dy="-5.6">SO</tspan><tspan dy="5.6" font-size="15.5px">4</tspan></text>
</g>
<text x="375.4" y="573.4" text-anchor="middle" font-size="26px">Freeze-thaw cycles /frequency</text>
<text transform="translate(17.8,256.9) rotate(-90)" text-anchor="middle" font-size="26px">Compressive strength /MPa</text>
</svg>
</body></html>
